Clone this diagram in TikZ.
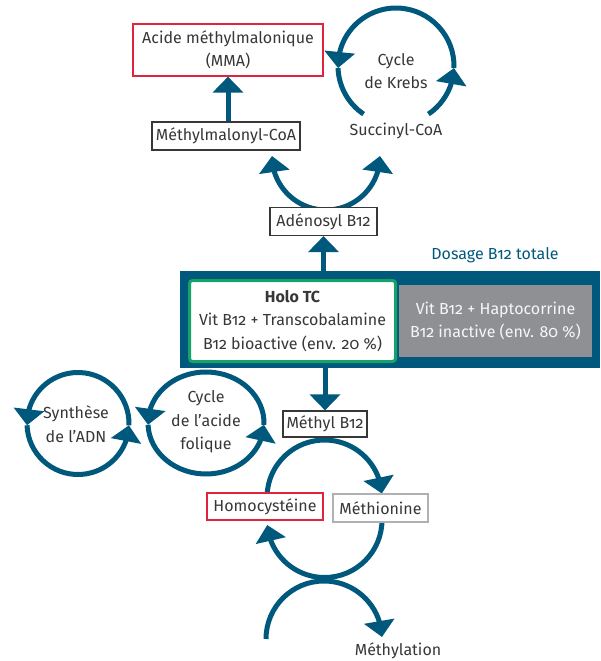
\documentclass[tikz,border=0pt]{standalone}
\usepackage{fontspec}
\setmainfont{Fira Sans}[Numbers=OldStyle]
\usetikzlibrary{arrows.meta,bending}
\definecolor{petrol}{RGB}{0,89,124}
\definecolor{vert}{RGB}{22,163,106}
\definecolor{gris}{RGB}{143,144,148}
\definecolor{rouge}{RGB}{226,35,60}
\definecolor{texte}{RGB}{55,55,55}

\begin{document}
\begin{tikzpicture}[x=1pt,y=1pt,
		font=\fontsize{16}{23.5}\selectfont, text=texte,
		flux/.style={petrol, line width=5pt, -{Triangle[length=16pt,width=30pt,flex]}},
		trait/.style={petrol, line width=5pt},
		boite/.style={draw=texte, line width=1.2pt, fill=white, inner sep=0pt, align=center},
		]
		\useasboundingbox (0,0) rectangle (601,-661);
		
		% Centres des cycles
		\coordinate (K) at (396,-66);
		\coordinate (A) at (326,-156);
		\coordinate (S) at (78,-423.5);
		\coordinate (F) at (206,-423);
		\coordinate (U) at (324.5,-497.5);
		\coordinate (L) at (324.5,-520);
		\coordinate (B) at (324,-639);
		
		% Cycles
		\draw[flux] ([shift={(304:58)}]K) arc[start angle=304, end angle=358, radius=58];
		\draw[flux] ([shift={(-2:58)}]K) arc[start angle=-2, end angle=182, radius=58];
		\draw[trait] ([shift={(182:58)}]K) arc[start angle=182, end angle=236, radius=58];
		
		\draw[flux] ([shift={(270:54)}]A) arc[start angle=270, end angle=180, radius=54];
		\draw[flux] ([shift={(270:54)}]A) arc[start angle=270, end angle=360, radius=54];
		
		\draw[flux] ([shift={(182:51)}]S) arc[start angle=182, end angle=358, radius=51];
		\draw[flux] ([shift={(-2:51)}]S) arc[start angle=-2, end angle=182, radius=51];
		
		\draw[flux] ([shift={(182:58 and 51)}]F) arc[start angle=182, end angle=358, x radius=58, y radius=51];
		\draw[flux] ([shift={(-2:58 and 51)}]F) arc[start angle=-2, end angle=182, x radius=58, y radius=51];
		
		\draw[flux] ([shift={(178:57.5)}]U) arc[start angle=178, end angle=4, radius=57.5];
		\draw[flux] ([shift={(0:57.5)}]L) arc[start angle=0, end angle=-175, radius=57.5];
		\draw[flux] ([shift={(180:58)}]B) arc[start angle=180, end angle=2, radius=58];
		
		% Dosage
		\node[fill=petrol, minimum width=420, minimum height=97, inner sep=0pt] (bande) at (390,-319.5) {};
		\node[draw=vert, line width=3pt, rounded corners=3pt, fill=white, minimum width=206, minimum height=81, inner sep=0pt, align=center] (holo) at (292.5,-321)
			{\textbf{Holo TC}\\Vit B12 + Transcobalamine\\B12 bioactive (env. 20~\%)};
		\node[fill=gris, text=white!92!gris, minimum width=193, minimum height=72, inner sep=0pt, align=center] (hapto) at (495.5,-321)
			{Vit B12 + Haptocorrine\\B12 inactive (env. 80~\%)};
		\node[text=petrol] (dosage) at (495,-255) {Dosage B12 totale};
		
		% Boites
		\node[boite, draw=rouge, minimum width=190, minimum height=52] (mma) at (228,-50) {Acide méthylmalonique\\(MMA)};
		\node[boite, minimum width=148, minimum height=28] (mmcoa) at (226,-136) {Méthylmalonyl-CoA};
		\node[align=center] (krebs) at (396,-71) {Cycle\\de Krebs};
		\node (succ) at (396,-131) {Succinyl-CoA};
		\node[boite, minimum width=107, minimum height=28] (adeno) at (323.5,-221.5) {Adénosyl B12};
		\node[boite, minimum width=84, minimum height=26] (methyl) at (325,-424) {Méthyl B12};
		\node[boite, draw=rouge, minimum width=116, minimum height=27] (homo) at (265,-506.5) {Homocystéine};
		\node[boite, draw=gris!70, minimum width=95, minimum height=28] (methio) at (380.5,-508) {Méthionine};
		\node (methylation) at (398,-651) {Méthylation};
		\node[align=center] (synth) at (76,-424) {Synthèse\\de l’ADN};
		\node[align=center] (folique) at (206,-422) {Cycle\\de l’acide\\folique};
		
		% Fleches
		\draw[flux] (mmcoa.north -| mma.south) -- (mma.south);
		\draw[flux] (adeno.south |- bande.north) -- (adeno.south);
		\draw[flux] (methyl.north |- bande.south) -- (methyl.north);
	\end{tikzpicture}
\end{document}
